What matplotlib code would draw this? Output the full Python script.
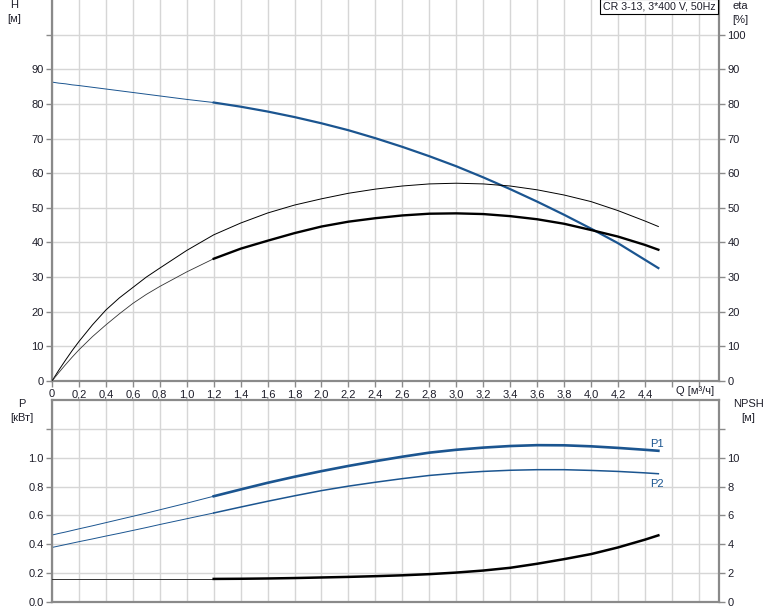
import matplotlib.pyplot as plt

plt.rcParams['font.family'] = ['Liberation Sans', 'DejaVu Sans']
plt.rcParams['font.size'] = 8

# flow values, m3/h
Q = [0, 0.05, 0.1, 0.15, 0.2, 0.3, 0.4, 0.5, 0.6, 0.7, 0.8, 1.0, 1.2, 1.4, 1.6, 1.8, 2.0, 2.2, 2.4, 2.6,
     2.8, 3.0, 3.2, 3.4, 3.6, 3.8, 4.0, 4.2, 4.4, 4.5]

head = [86.3, 86.0, 85.8, 85.5, 85.3, 84.8, 84.3, 83.8, 83.3, 82.8, 82.3, 81.3, 80.4, 79.2, 77.8, 76.2, 74.4,
        72.4, 70.1, 67.6, 64.9, 62.0, 58.8, 55.4, 51.8, 48.0, 44.0, 39.8, 35.0, 32.6]
eta_pump = [0, 3.1, 6.0, 8.8, 11.4, 16.2, 20.5, 24.0, 27.0, 30.0, 32.6, 37.7, 42.2, 45.6, 48.5, 50.8, 52.6,
            54.2, 55.4, 56.3, 56.9, 57.1, 56.9, 56.3, 55.2, 53.7, 51.8, 49.2, 46.2, 44.6]
eta_total = [0, 2.4, 4.7, 6.9, 9.0, 12.8, 16.2, 19.4, 22.4, 25.0, 27.3, 31.5, 35.3, 38.2, 40.5, 42.7, 44.6,
             46.0, 47.0, 47.8, 48.3, 48.4, 48.2, 47.6, 46.7, 45.4, 43.6, 41.7, 39.3, 37.9]
p1 = [0.464, 0.475, 0.485, 0.496, 0.507, 0.528, 0.550, 0.572, 0.594, 0.616, 0.639, 0.685, 0.733, 0.780,
      0.826, 0.868, 0.907, 0.943, 0.976, 1.007, 1.035, 1.055, 1.070, 1.081, 1.087, 1.086, 1.079, 1.068,
      1.055, 1.048]
p2 = [0.378, 0.388, 0.398, 0.408, 0.418, 0.437, 0.457, 0.476, 0.496, 0.516, 0.537, 0.577, 0.617, 0.658,
      0.698, 0.736, 0.772, 0.803, 0.830, 0.855, 0.877, 0.893, 0.905, 0.913, 0.917, 0.917, 0.912, 0.905,
      0.895, 0.889]
npsh = [1.6, 1.6, 1.6, 1.6, 1.6, 1.6, 1.6, 1.6, 1.6, 1.6, 1.6, 1.6, 1.6, 1.61, 1.63, 1.66, 1.70, 1.74,
        1.79, 1.85, 1.93, 2.04, 2.18, 2.37, 2.65, 2.97, 3.32, 3.78, 4.32, 4.62]

x_ticks = [round(0.2 * i, 1) for i in range(25)]
x_labels = ['0'] + [('%.1f' % v).replace('.', ',') for v in x_ticks[1:23]] + ['', '']
h_ticks = list(range(0, 101, 10))
h_labels = [str(v) for v in range(0, 91, 10)] + ['']
eta_ticks = list(range(0, 101, 10))
p_ticks = [0.0, 0.2, 0.4, 0.6, 0.8, 1.0, 1.2]
p_labels = ['0.0', '0.2', '0.4', '0.6', '0.8', '1.0', '']
npsh_ticks = [0, 2, 4, 6, 8, 10, 12]
npsh_labels = ['0', '2', '4', '6', '8', '10', '']

BLUE = '#1b5590'
GRID = '#d6d6d6'
SPINE = '#8a8a8a'
TXT = '#1e1e2a'
W, H = 774, 611
split = Q.index(1.2)


def style_axes(ax):
    for s in ax.spines.values():
        s.set_color(SPINE)
        s.set_linewidth(1.6)
    ax.tick_params(colors=SPINE, labelcolor=TXT, length=4, width=1, labelsize=8, pad=2)
    ax.grid(True, color=GRID, linewidth=1)
    ax.set_axisbelow(True)


fig = plt.figure(figsize=(W / 100, H / 100), dpi=100)

# upper panel: head and efficiency
ax1 = fig.add_axes([52 / W, 1 - 381 / H, 667 / W, 381 / H])
style_axes(ax1)
ax1.spines['top'].set_visible(False)
ax1.set_xlim(0, 4.95)
ax1.set_ylim(0, 110)
ax1.set_xticks(x_ticks)
ax1.set_xticklabels(x_labels)
ax1.set_yticks(h_ticks)
ax1.set_yticklabels(h_labels)

ax1r = ax1.twinx()
ax1r.set_ylim(0, 110)
ax1r.set_yticks(eta_ticks)
ax1r.set_yticklabels([str(v) for v in eta_ticks])
for s in ax1r.spines.values():
    s.set_visible(False)
ax1r.tick_params(colors=SPINE, labelcolor=TXT, length=4, width=1, labelsize=8, pad=2)

ax1.plot(Q[:split + 1], head[:split + 1], color=BLUE, lw=0.7)
ax1.plot(Q[split:], head[split:], color=BLUE, lw=1.6)
ax1r.plot(Q, eta_pump, color='black', lw=0.7)
ax1r.plot(Q[:split + 1], eta_total[:split + 1], color='#333333', lw=0.6)
ax1r.plot(Q[split:], eta_total[split:], color='black', lw=1.7)

ax1.text(0.995, 0.996, 'CR 3-13, 3*400 V, 50Hz', transform=ax1.transAxes, ha='right', va='top',
         fontsize=7.7, color=TXT,
         bbox=dict(boxstyle='square,pad=0.25', fc='white', ec='black', lw=0.8), zorder=10)

# lower panel: power and NPSH
ax2 = fig.add_axes([52 / W, 1 - 602 / H, 667 / W, 202 / H])
style_axes(ax2)
ax2.set_xlim(0, 4.95)
ax2.set_ylim(0, 1.4)
ax2.set_xticks(x_ticks)
ax2.tick_params(axis='x', length=0, labelbottom=False)
ax2.set_yticks(p_ticks)
ax2.set_yticklabels(p_labels)

ax2r = ax2.twinx()
ax2r.set_ylim(0, 14)
ax2r.set_yticks(npsh_ticks)
ax2r.set_yticklabels(npsh_labels)
for s in ax2r.spines.values():
    s.set_visible(False)
ax2r.tick_params(colors=SPINE, labelcolor=TXT, length=4, width=1, labelsize=8, pad=2)

ax2.plot(Q[:split + 1], p1[:split + 1], color=BLUE, lw=0.7)
ax2.plot(Q[split:], p1[split:], color=BLUE, lw=1.9)
ax2.plot(Q[:split + 1], p2[:split + 1], color=BLUE, lw=0.7)
ax2.plot(Q[split:], p2[split:], color=BLUE, lw=1.1)
ax2r.plot(Q[:split + 1], npsh[:split + 1], color='#333333', lw=0.7)
ax2r.plot(Q[split:], npsh[split:], color='black', lw=1.8)

ax2.text(Q[-1] - 0.06, p1[-1] + 0.045, 'P1', color=BLUE, fontsize=8, ha='left', va='center')
ax2.text(Q[-1] - 0.06, p2[-1] - 0.07, 'P2', color=BLUE, fontsize=8, ha='left', va='center')

# axis captions
fig.text(14 / W, 1 - 12 / H, 'H\n[м]', ha='center', va='center', color=TXT, fontsize=8, linespacing=1.5)
fig.text(740 / W, 1 - 13 / H, 'eta\n[%]', ha='center', va='center', color=TXT, fontsize=8, linespacing=1.5)
fig.text(22 / W, 1 - 411 / H, 'P\n[кВт]', ha='center', va='center', color=TXT, fontsize=8, linespacing=1.5)
fig.text(748 / W, 1 - 411 / H, 'NPSH\n[м]', ha='center', va='center', color=TXT, fontsize=8, linespacing=1.5)
fig.text(695 / W, 1 - 391 / H, 'Q [м³/ч]', ha='center', va='center', color=TXT, fontsize=8)

fig.savefig('out.png', dpi=100)
